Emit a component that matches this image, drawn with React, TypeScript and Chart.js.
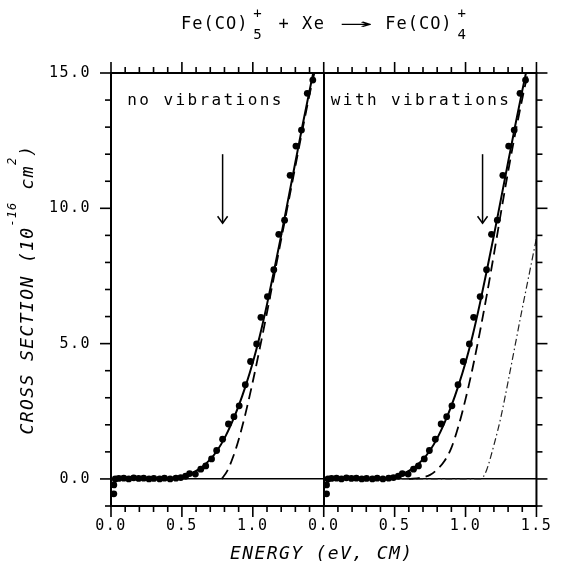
import React, { useEffect, useRef } from 'react';
import { Chart, registerables } from 'chart.js';

Chart.register(...registerables);

const FONT = '"DejaVu Sans Mono", monospace';

// Two panels share one energy axis; the right panel is shifted by this amount.
const PANEL_OFFSET = 1.5;

const X_MIN = 0;
const X_MAX = 3;
const X_TICK_STEP = 0.1;
const X_MAJOR_STEP = 0.5;
const X_MAJOR_LABELS = ['0.0', '0.5', '1.0', '0.0', '0.5', '1.0', '1.5'];

const Y_MIN = -1;
const Y_MAX = 15;
const Y_TICK_STEP = 1;
const Y_MAJOR_STEP = 5;

// Experimental cross sections (same data in both panels)
const EXP_ENERGY = [0.02, 0.02, 0.03, 0.055, 0.09, 0.125, 0.16, 0.195, 0.23, 0.268, 0.302, 0.343, 0.377, 0.417, 0.458, 0.492, 0.526, 0.554, 0.595, 0.633, 0.668, 0.709, 0.745, 0.787, 0.828, 0.867, 0.904, 0.947, 0.984, 1.027, 1.057, 1.103, 1.148, 1.183, 1.224, 1.263, 1.304, 1.343, 1.384, 1.423];
const EXP_SIGMA = [-0.55, -0.22, 0.0, 0.02, 0.03, 0.0, 0.04, 0.02, 0.03, 0.0, 0.02, 0.0, 0.03, 0.0, 0.03, 0.05, 0.1, 0.2, 0.18, 0.36, 0.48, 0.74, 1.05, 1.47, 2.03, 2.3, 2.7, 3.48, 4.34, 4.99, 5.97, 6.74, 7.73, 9.04, 9.56, 11.22, 12.3, 12.89, 14.25, 14.74];

// Solid fit curve (both panels)
const FIT_ENERGY = [0, 0.3, 0.4, 0.45, 0.5, 0.55, 0.6, 0.65, 0.7, 0.75, 0.8, 0.85, 0.9, 0.95, 1.0, 1.05, 1.1, 1.15, 1.2, 1.25, 1.3, 1.35, 1.4, 1.45];
const FIT_SIGMA = [0, 0, 0.01, 0.04, 0.09, 0.17, 0.3, 0.48, 0.72, 1.06, 1.5, 2.05, 2.7, 3.45, 4.3, 5.3, 6.45, 7.7, 9.0, 10.35, 11.7, 13.05, 14.35, 15.6];

// Dashed model curve, left panel (no vibrations)
const NOVIB_ENERGY = [0.78, 0.82, 0.86, 0.9, 0.95, 1.0, 1.05, 1.1, 1.15, 1.2, 1.25, 1.3, 1.35, 1.4, 1.46];
const NOVIB_SIGMA = [0, 0.3, 0.8, 1.45, 2.45, 3.6, 4.85, 6.15, 7.5, 8.85, 10.2, 11.55, 12.9, 14.2, 15.6];

// Dashed model curve, right panel (with vibrations)
const VIB_ENERGY = [0.6, 0.68, 0.75, 0.8, 0.85, 0.9, 0.95, 1.0, 1.05, 1.1, 1.15, 1.2, 1.25, 1.3, 1.35, 1.4, 1.46];
const VIB_SIGMA = [0, 0.04, 0.15, 0.35, 0.65, 1.15, 1.95, 2.95, 4.1, 5.4, 6.8, 8.3, 9.85, 11.35, 12.75, 14.05, 15.5];

// Dash-dot curve, right panel
const DD_ENERGY = [0.55, 1.1, 1.125, 1.15, 1.2, 1.25, 1.3, 1.35, 1.4, 1.45, 1.5];
const DD_SIGMA = [0, 0, 0.08, 0.35, 1.25, 2.3, 3.6, 4.95, 6.3, 7.6, 8.9];

// Arrows (panel energies) and panel labels
const ARROW_ENERGY = [0.787, 1.12];
const ARROW_TOP = 12.0;
const ARROW_BOTTOM = 9.45;
const PANEL_LABELS = ['no vibrations', 'with vibrations'];
const PANEL_LABEL_ENERGY = [0.115, 0.05];
const PANEL_LABEL_SIGMA = 13.8;

const toPts = (xs: number[], ys: number[], off: number) => xs.map((x, i) => ({ x: x + off, y: ys[i] }));

const range = (min: number, max: number, step: number) => {
  const n = Math.round((max - min) / step);
  return Array.from({ length: n + 1 }, (_, i) => +(min + i * step).toFixed(4));
};

const isMult = (v: number, s: number) => Math.abs(v / s - Math.round(v / s)) < 1e-6;

type Part = { text: string; font: string; dy: number; ls: number; sx?: number; pad?: number; stack?: Part[] };

function setF(ctx: any, p: Part) {
  ctx.font = p.font;
  ctx.letterSpacing = p.ls + 'px';
}
function partW(ctx: any, p: Part): number {
  if (p.stack) return Math.max(...p.stack.map((q) => partW(ctx, q))) + 2 * (p.pad || 0);
  setF(ctx, p);
  return ctx.measureText(p.text).width * (p.sx || 1) + 2 * (p.pad || 0);
}
function drawParts(ctx: any, parts: Part[], x: number, y: number) {
  let cx = x;
  for (const p of parts) {
    const pad = p.pad || 0;
    if (p.stack) {
      const w = partW(ctx, p);
      for (const q of p.stack) {
        setF(ctx, q);
        const qw = ctx.measureText(q.text).width;
        ctx.fillText(q.text, cx + (w - qw) / 2, y + q.dy);
      }
      cx += w;
      continue;
    }
    setF(ctx, p);
    const w = ctx.measureText(p.text).width;
    if (p.sx) {
      ctx.save();
      ctx.translate(cx + pad, y + p.dy);
      ctx.scale(p.sx, 1);
      ctx.fillText(p.text, 0, 0);
      ctx.restore();
    } else {
      ctx.fillText(p.text, cx + pad, y + p.dy);
    }
    cx += w * (p.sx || 1) + 2 * pad;
  }
  return cx - x;
}
const totalW = (ctx: any, parts: Part[]) => parts.reduce((s, p) => s + partW(ctx, p), 0);

const frameAndTicks = {
  id: 'frameAndTicks',
  beforeDraw(chart: any) {
    chart.ctx.letterSpacing = '1.5px';
  },
  afterDraw(chart: any) {
    const { ctx, chartArea: a, scales } = chart;
    ctx.save();
    ctx.letterSpacing = '0px';
    ctx.strokeStyle = '#000';
    ctx.lineCap = 'butt';
    ctx.lineWidth = 2;
    ctx.strokeRect(a.left, a.top, a.right - a.left, a.bottom - a.top);
    ctx.lineWidth = 1.6;
    const seg = (x1: number, y1: number, x2: number, y2: number) => {
      ctx.beginPath();
      ctx.moveTo(x1, y1);
      ctx.lineTo(x2, y2);
      ctx.stroke();
    };
    const MAJ = 11;
    const MIN = 6;
    for (const t of scales.x.ticks) {
      const px = scales.x.getPixelForValue(t.value);
      const len = isMult(t.value, X_MAJOR_STEP) ? MAJ : MIN;
      seg(px, a.bottom, px, a.bottom + len);
      seg(px, a.top, px, a.top - len);
    }
    for (const t of scales.y.ticks) {
      const py = scales.y.getPixelForValue(t.value);
      const len = isMult(t.value, Y_MAJOR_STEP) ? MAJ : MIN;
      seg(a.left, py, a.left - len, py);
      seg(a.right, py, a.right + len, py);
    }

    // arrows
    ctx.lineWidth = 1.5;
    ARROW_ENERGY.forEach((e, i) => {
      const px = scales.x.getPixelForValue(e + i * PANEL_OFFSET);
      const y1 = scales.y.getPixelForValue(ARROW_TOP);
      const y2 = scales.y.getPixelForValue(ARROW_BOTTOM);
      seg(px, y1, px, y2);
      ctx.beginPath();
      ctx.moveTo(px - 5, y2 - 7);
      ctx.lineTo(px, y2);
      ctx.lineTo(px + 5, y2 - 7);
      ctx.stroke();
    });

    ctx.fillStyle = '#000';
    ctx.textBaseline = 'alphabetic';
    ctx.textAlign = 'left';

    // panel labels
    PANEL_LABELS.forEach((s, i) => {
      const px = scales.x.getPixelForValue(PANEL_LABEL_ENERGY[i] + i * PANEL_OFFSET);
      const py = scales.y.getPixelForValue(PANEL_LABEL_SIGMA);
      drawParts(ctx, [{ text: s, font: `16px ${FONT}`, dy: 0, ls: 2.4 }], px, py);
    });

    // title
    const M = `17px ${FONT}`;
    const S = `14px ${FONT}`;
    const title: Part[] = [
      { text: 'Fe(CO)', font: M, dy: 0, ls: 1 },
      { text: '', font: M, dy: 0, ls: 0, pad: 5, stack: [{ text: '+', font: S, dy: -11, ls: 0 }, { text: '5', font: S, dy: 10, ls: 0 }] },
      { text: ' + Xe ', font: M, dy: 0, ls: 1.5 },
      { text: '→', font: M, dy: 0, ls: 0, sx: 3.2, pad: 2 },
      { text: ' Fe(CO)', font: M, dy: 0, ls: 1 },
      { text: '', font: M, dy: 0, ls: 0, pad: 5, stack: [{ text: '+', font: S, dy: -11, ls: 0 }, { text: '4', font: S, dy: 10, ls: 0 }] },
    ];
    const tw = totalW(ctx, title);
    drawParts(ctx, title, 326 - tw / 2, 29);

    // x title
    const xt: Part[] = [{ text: 'ENERGY (eV, CM)', font: `italic 18px ${FONT}`, dy: 0, ls: 1.4 }];
    drawParts(ctx, xt, (a.left + a.right) / 2 - 2 - totalW(ctx, xt) / 2, 559);

    // y title
    const YM = `italic 18px ${FONT}`;
    const YS = `italic 12px ${FONT}`;
    const yt: Part[] = [
      { text: 'CROSS SECTION (10', font: YM, dy: 0, ls: 1.4 },
      { text: '-16', font: YS, dy: -16.5, ls: 1 },
      { text: ' cm', font: YM, dy: 0, ls: 1.4 },
      { text: '2', font: YS, dy: -16.5, ls: 1 },
      { text: ')', font: YM, dy: 0, ls: 1.4 },
    ];
    ctx.save();
    ctx.translate(32.5, (a.top + a.bottom) / 2);
    ctx.rotate(-Math.PI / 2);
    drawParts(ctx, yt, -totalW(ctx, yt) / 2, 0);
    ctx.restore();

    ctx.restore();
    ctx.letterSpacing = '0px';
  },
};

export default function App() {
  const ref = useRef<HTMLCanvasElement | null>(null);

  useEffect(() => {
    if (!ref.current) return;
    const lineDs = (xs: number[], ys: number[], off: number, extra: any) => ({
      type: 'line',
      data: toPts(xs, ys, off),
      borderColor: '#000',
      borderWidth: 2,
      pointRadius: 0,
      fill: false,
      cubicInterpolationMode: 'monotone',
      ...extra,
    });
    const dotDs = (off: number) => ({
      type: 'scatter',
      data: toPts(EXP_ENERGY, EXP_SIGMA, off),
      backgroundColor: '#000',
      borderColor: '#000',
      borderWidth: 0,
      pointRadius: 3.4,
      showLine: false,
    });

    const chart = new Chart(ref.current, {
      type: 'scatter',
      data: {
        datasets: [
          lineDs(FIT_ENERGY, FIT_SIGMA, 0, {}),
          lineDs(FIT_ENERGY, FIT_SIGMA, PANEL_OFFSET, {}),
          lineDs(NOVIB_ENERGY, NOVIB_SIGMA, 0, { borderDash: [11, 6], borderWidth: 1.8 }),
          lineDs(VIB_ENERGY, VIB_SIGMA, PANEL_OFFSET, { borderDash: [11, 6], borderWidth: 1.8 }),
          lineDs(DD_ENERGY, DD_SIGMA, PANEL_OFFSET, { borderDash: [7, 3, 1.5, 3], borderWidth: 1.2, borderColor: '#222' }),
          dotDs(0),
          dotDs(PANEL_OFFSET),
        ] as any,
      },
      options: {
        animation: false,
        responsive: false,
        maintainAspectRatio: false,
        layout: { padding: { top: 73, right: 15, left: 0, bottom: 0 } },
        plugins: { legend: { display: false }, tooltip: { enabled: false }, title: { display: false } },
        scales: {
          x: {
            type: 'linear',
            min: X_MIN,
            max: X_MAX,
            afterBuildTicks: (s: any) => {
              s.ticks = range(X_MIN, X_MAX, X_TICK_STEP).map((v) => ({ value: v }));
            },
            afterFit: (s: any) => {
              s.height = 56;
            },
            ticks: {
              autoSkip: false,
              maxRotation: 0,
              padding: 11,
              color: '#000',
              font: { family: FONT, size: 15 },
              callback: (v: any) => (isMult(v, X_MAJOR_STEP) ? X_MAJOR_LABELS[Math.round(v / X_MAJOR_STEP)] : ''),
            },
            grid: {
              drawTicks: false,
              color: (c: any) => (c.tick && Math.abs(c.tick.value - PANEL_OFFSET) < 1e-6 ? '#000' : 'rgba(0,0,0,0)'),
              lineWidth: 2,
            },
            border: { display: false },
          },
          y: {
            type: 'linear',
            min: Y_MIN,
            max: Y_MAX,
            afterBuildTicks: (s: any) => {
              s.ticks = range(Y_MIN, Y_MAX, Y_TICK_STEP).map((v) => ({ value: v }));
            },
            afterFit: (s: any) => {
              s.width = 111;
            },
            ticks: {
              autoSkip: false,
              padding: 20,
              color: '#000',
              font: { family: FONT, size: 15 },
              callback: (v: any) => (isMult(v, Y_MAJOR_STEP) ? Number(v).toFixed(1) : ''),
            },
            grid: {
              drawTicks: false,
              color: (c: any) => (c.tick && Math.abs(c.tick.value) < 1e-6 ? '#000' : 'rgba(0,0,0,0)'),
              lineWidth: 1.5,
            },
            border: { display: false },
          },
        },
      } as any,
      plugins: [frameAndTicks],
    });
    return () => chart.destroy();
  }, []);

  return (
    <div style={{ position: 'absolute', left: 0, top: 0, width: 561, height: 562, background: '#fff' }}>
      <canvas ref={ref} width={561} height={562} style={{ display: 'block' }} />
    </div>
  );
}
